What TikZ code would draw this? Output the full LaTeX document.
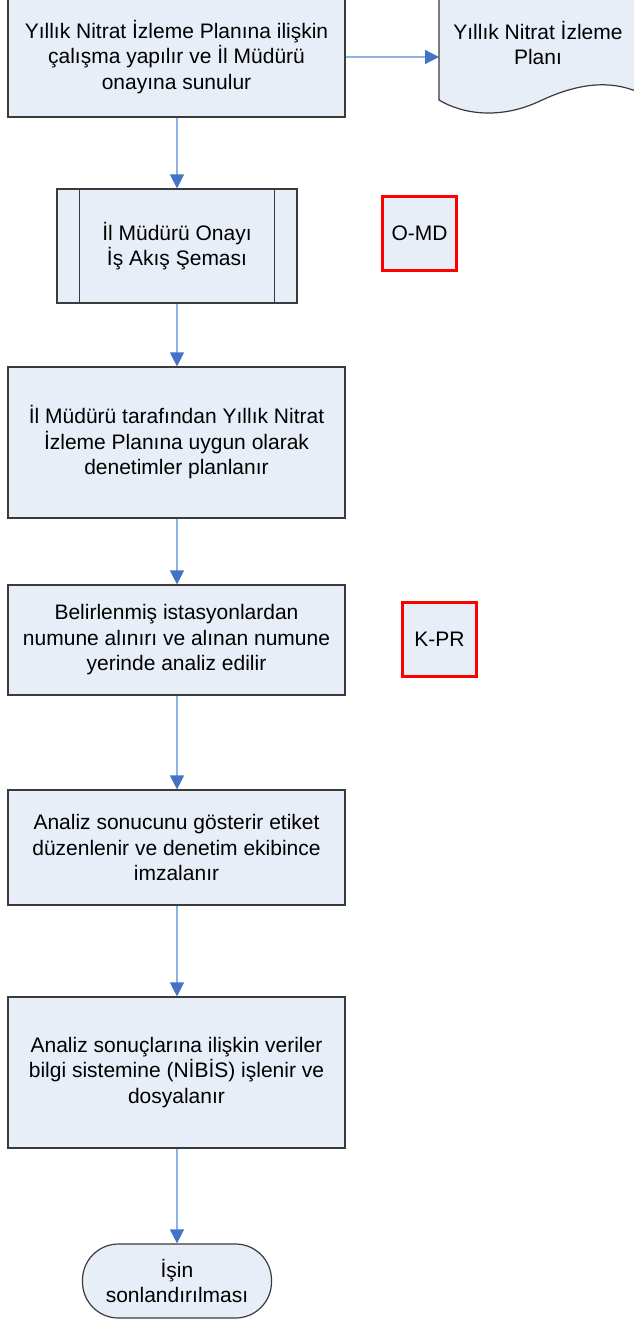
\documentclass[tikz,border=0pt]{standalone}
\usepackage{fontspec}
\setmainfont{Liberation Sans}
\usetikzlibrary{arrows.meta}
\definecolor{boxfill}{HTML}{E8EEF7}
\definecolor{boxline}{HTML}{3A3A3A}
\definecolor{arrline}{HTML}{8DB3E2}
\definecolor{arrhead}{HTML}{4472C4}
\tikzset{
  txt/.style={font=\fontsize{21}{25.5}\selectfont, align=center, text=black},
  procbox/.style={txt, draw=boxline, line width=1.2pt, fill=boxfill, inner sep=0pt},
  refbox/.style={txt, draw=red, line width=3pt, fill=boxfill, inner sep=0pt},
  flow/.style={draw=arrline, line width=1.2pt, -{Triangle[width=14pt,length=14pt,color=arrhead]}},
}
\begin{document}
\begin{tikzpicture}[x=1pt,y=-1pt]
\useasboundingbox (0,0) rectangle (633,1323);
% box 1
\node[procbox, minimum width=337pt, minimum height=120pt] (b1) at (176.5,57) {Yıllık Nitrat İzleme Planına ilişkin\\çalışma yapılır ve İl Müdürü\\onayına sunulur};
% document shape
\coordinate (dnw) at (439,-4);
\coordinate (dsw) at (439,100);
\coordinate (dse) at (638,92);
\coordinate (dne) at (638,-4);
\draw[boxline, line width=1.2pt, fill=boxfill]
  (dnw) -- (dsw)
  .. controls (462,114) and (500,120) .. (540,101)
  .. controls (578,83) and (610,80) .. (dse)
  -- (dne) -- cycle;
\node[txt, inner sep=0pt] (doc) at (538,43) {Yıllık Nitrat İzleme\\Planı};
% predefined process
\node[procbox, minimum width=240pt, minimum height=114pt] (p) at (177,246) {İl Müdürü Onayı\\İş Akış Şeması};
\draw[boxline, line width=1.2pt] ([xshift=23pt]p.north west) -- ([xshift=23pt]p.south west);
\draw[boxline, line width=1.2pt] ([xshift=-23pt]p.north east) -- ([xshift=-23pt]p.south east);
\node[refbox, minimum width=74pt, minimum height=74pt] (omd) at (419.5,233.5) {O-MD};
% box 3
\node[procbox, minimum width=337pt, minimum height=151pt] (b3) at (176.5,442.5) {İl Müdürü tarafından Yıllık Nitrat\\İzleme Planına uygun olarak\\denetimler planlanır};
% box 4
\node[procbox, minimum width=337pt, minimum height=110pt] (b4) at (176.5,640) {Belirlenmiş istasyonlardan\\numune alınırı ve alınan numune\\yerinde analiz edilir};
\node[refbox, minimum width=74pt, minimum height=74pt] (kpr) at (439.5,639) {K-PR};
% box 5
\node[procbox, minimum width=337pt, minimum height=115pt] (b5) at (176.5,847.5) {Analiz sonucunu gösterir etiket\\düzenlenir ve denetim ekibince\\imzalanır};
% box 6
\node[procbox, minimum width=337pt, minimum height=151pt] (b6) at (176.5,1072.5) {Analiz sonuçlarına ilişkin veriler\\bilgi sistemine (NİBİS) işlenir ve\\dosyalanır};
% terminal
\node[procbox, minimum width=189pt, minimum height=74pt, rounded corners=36pt] (t) at (177,1281) {İşin\\sonlandırılması};
% connectors
\draw[flow] (b1.east) -- (b1.east -| dsw);
\draw[flow] (b1.south -| p.north) -- (p.north);
\draw[flow] (p.south) -- (b3.north -| p.south);
\draw[flow] (b3.south -| p.south) -- (b4.north -| p.south);
\draw[flow] (b4.south -| p.south) -- (b5.north -| p.south);
\draw[flow] (b5.south -| p.south) -- (b6.north -| p.south);
\draw[flow] (b6.south -| t.north) -- (t.north);
\end{tikzpicture}
\end{document}
